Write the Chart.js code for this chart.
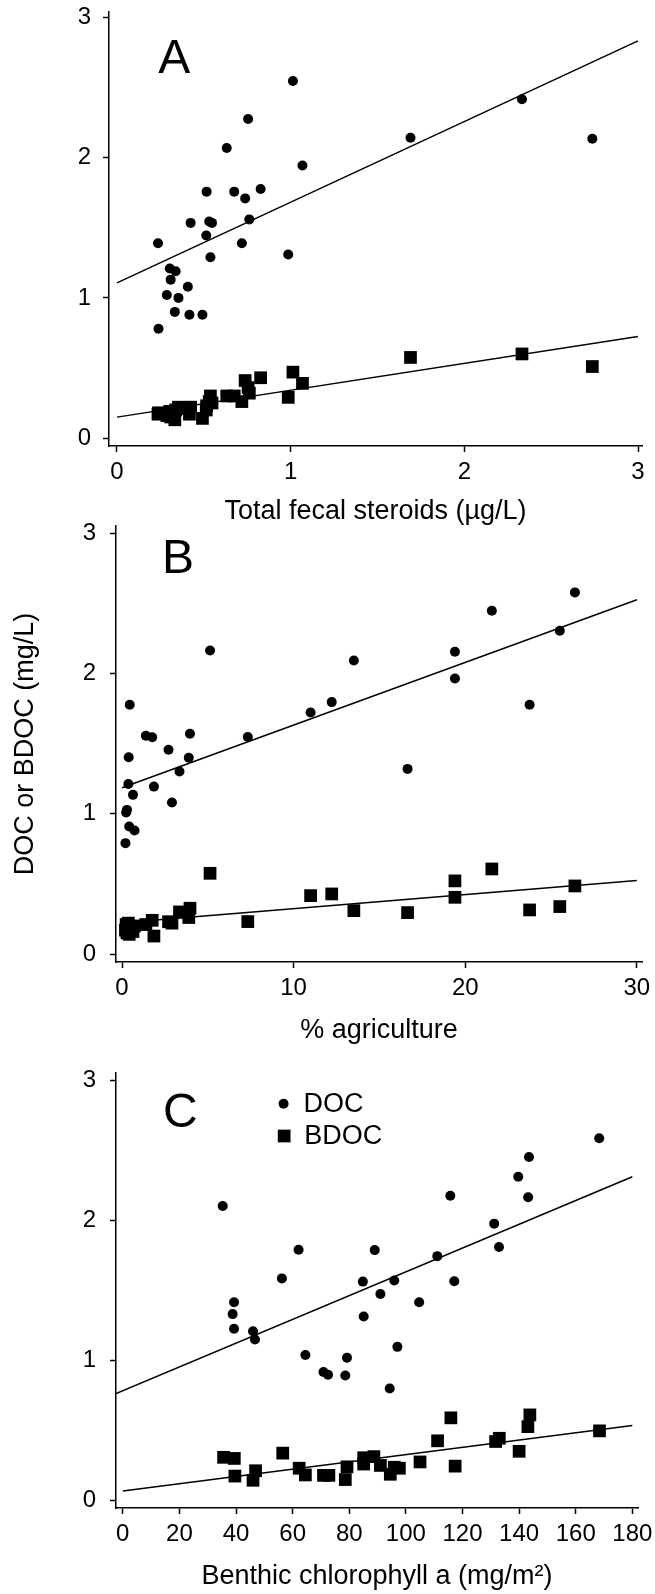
<!DOCTYPE html>
<html>
<head>
  <title>DOC and BDOC</title>
  <script src="https://cdn.jsdelivr.net/npm/chart.js"></script>
  <style>
    body { margin: 0; background: #fff; }
    #wrap { position: relative; width: 655px; height: 1594px; background: #fff; }
    canvas { position: absolute; left: 0; }
  </style>
</head>
<body>
<div id="wrap">
  <canvas id="chartA" width="655" height="525" style="top:0px"></canvas>
  <canvas id="chartB" width="655" height="550" style="top:500px"></canvas>
  <canvas id="chartC" width="655" height="554" style="top:1040px"></canvas>
</div>
<script>
// ====================
// Panel A: total fecal steroids (ug/L)
// ====================
const steroidsX = [0.236, 0.239, 0.287, 0.304, 0.309, 0.333, 0.338, 0.354, 0.408, 0.417,
                   0.424, 0.492, 0.514, 0.516, 0.531, 0.538, 0.547, 0.632, 0.675, 0.719,
                   0.738, 0.755, 0.762, 0.827, 0.986, 1.013, 1.068, 1.690, 2.332, 2.737];
const steroidsDOC = [1.39, 0.78, 1.02, 1.21, 1.13, 0.90, 1.19, 1.00, 1.08, 0.88,
                     1.535, 0.88, 1.445, 1.758, 1.545, 1.29, 1.535, 2.07, 1.758, 1.39,
                     1.71, 2.276, 1.56, 1.777, 1.31, 2.548, 1.945, 2.143, 2.418, 2.136];
const steroidsBDOC = [0.17, 0.18, 0.16, 0.19, 0.15, 0.13, 0.20, 0.22, 0.21, 0.17,
                      0.22, 0.14, 0.20, 0.23, 0.26, 0.30, 0.25, 0.30, 0.30, 0.26,
                      0.41, 0.36, 0.32, 0.43, 0.29, 0.47, 0.39, 0.575, 0.60, 0.51];
const steroidsFitX = [0, 3];
const steroidsFitDOC = [1.107, 2.834];
const steroidsFitBDOC = [0.149, 0.724];

// ====================
// Panel B: % agriculture
// ====================
const agriX = [0.20, 0.24, 0.29, 0.37, 0.39, 0.42, 0.45, 0.64, 0.73, 1.39,
               1.76, 1.86, 2.71, 2.91, 3.35, 3.89, 3.96, 5.13, 7.33, 10.99,
               12.22, 13.51, 16.64, 19.40, 19.40, 21.55, 23.75, 25.51, 26.39];
const agriDOC = [0.79, 1.008, 1.027, 1.212, 1.402, 0.908, 1.776, 1.134, 0.880, 1.555,
                 1.545, 1.193, 1.455, 1.079, 1.300, 1.398, 1.569, 2.163, 1.547, 1.721,
                 1.795, 2.092, 1.319, 2.154, 1.963, 2.446, 1.776, 2.303, 2.577];
const agriBDOC = [0.17, 0.21, 0.15, 0.22, 0.19, 0.14, 0.18, 0.16, 0.20, 0.21,
                  0.24, 0.128, 0.23, 0.22, 0.30, 0.26, 0.326, 0.575, 0.231, 0.416,
                  0.428, 0.309, 0.295, 0.521, 0.404, 0.606, 0.314, 0.338, 0.485];
const agriFitX = [0, 30];
const agriFitDOC = [1.185, 2.524];
const agriFitBDOC = [0.222, 0.523];

// ====================
// Panel C: benthic chlorophyll a (mg/m2)
// ====================
const chlDocX = [35.3, 39.3, 38.8, 39.3, 46.0, 46.7, 56.2, 62.1, 64.5, 70.9,
                 72.5, 78.6, 79.2, 84.8, 85.1, 89.0, 91.0, 95.9, 94.3, 97.0,
                 104.7, 111.1, 115.7, 117.1, 131.2, 132.9, 139.7, 143.5, 143.2, 168.3];
const chlDOC = [2.100, 1.412, 1.328, 1.223, 1.205, 1.147, 1.583, 1.787, 1.036, 0.915,
                0.895, 0.890, 1.016, 1.560, 1.311, 1.785, 1.472, 1.568, 0.797, 1.094,
                1.412, 1.742, 2.173, 1.563, 1.974, 1.807, 2.309, 2.450, 2.163, 2.584];
const chlBdocX = [35.6, 39.4, 39.6, 46.0, 46.9, 56.5, 62.3, 64.5, 70.9, 72.8,
                  78.6, 79.2, 85.1, 85.1, 88.7, 91.0, 94.5, 95.9, 97.7, 105.0,
                  111.2, 115.9, 117.4, 131.7, 133.0, 140.0, 143.1, 143.8, 168.4];
const chlBDOC = [0.305, 0.297, 0.171, 0.141, 0.209, 0.335, 0.227, 0.179, 0.176, 0.176,
                 0.146, 0.237, 0.257, 0.302, 0.310, 0.247, 0.184, 0.234, 0.227, 0.272,
                 0.423, 0.587, 0.242, 0.418, 0.441, 0.348, 0.524, 0.608, 0.494];
const chlFitDocX = [-2.4, 180];
const chlFitDOC = [0.760, 2.309];
const chlFitBdocX = [0, 180];
const chlFitBDOC = [0.065, 0.532];

const FONT = '"Liberation Sans", Arial, Helvetica, sans-serif';
Chart.defaults.font.family = FONT;
Chart.defaults.color = '#000';

const pts = (xs, ys) => xs.map((x, i) => ({ x: x, y: ys[i] }));

// panel letter + (optional) legend drawn in data units
const panelText = {
  id: 'panelText',
  afterDraw(chart, args, opts) {
    const { ctx } = chart;
    const sx = chart.scales.x, sy = chart.scales.y;
    ctx.save();
    ctx.fillStyle = '#000';
    ctx.textAlign = 'left';
    ctx.textBaseline = 'alphabetic';
    ctx.font = '48px ' + FONT;
    ctx.fillText(opts.letter, sx.getPixelForValue(opts.letterAt[0]), sy.getPixelForValue(opts.letterAt[1]));
    if (opts.legend) {
      ctx.font = '27px ' + FONT;
      ctx.textBaseline = 'middle';
      opts.legend.forEach(item => {
        const px = sx.getPixelForValue(item.at[0]);
        const py = sy.getPixelForValue(item.at[1]);
        Chart.helpers.drawPoint(ctx, { pointStyle: item.style, radius: item.radius, borderWidth: 0 }, px, py);
        ctx.fillText(item.text, px + 20, py + 1);
      });
    }
    ctx.restore();
  }
};

function axis(min, max, ticks, pad, title, titlePad) {
  return {
    type: 'linear',
    min: min,
    max: max,
    afterBuildTicks: s => { s.ticks = ticks.map(v => ({ value: v })); },
    ticks: { font: { size: 24, lineHeight: 1 }, color: '#000', padding: pad, callback: v => String(v), autoSkip: false, maxRotation: 0 },
    grid: { drawOnChartArea: false, drawTicks: true, tickLength: 6, tickWidth: 1.5, tickColor: '#000' },
    border: { display: true, color: '#000', width: 1.5 },
    title: { display: !!title, text: title || '', color: '#000', font: { size: 27, lineHeight: 1 }, padding: titlePad || 0 }
  };
}

function makeChart(id, c) {
  const x = axis(c.xMin, c.xMax, c.xTicks, 8, c.xTitle, { top: 0, bottom: c.xTitlePad });
  x.afterFit = s => { s.height = c.xHeight; s.paddingLeft = 0; s.paddingRight = 0; };
  const y = axis(-0.057, c.yMax, [0, 1, 2, 3], c.yPad, c.yTitle, { top: 12, bottom: 0 });
  y.afterFit = s => { s.width = c.yWidth; s.paddingTop = 0; s.paddingBottom = 0; };

  new Chart(document.getElementById(id), {
    type: 'scatter',
    data: {
      datasets: [
        { label: 'DOC', data: pts(c.docX, c.doc), pointStyle: 'circle', pointRadius: 5,
          backgroundColor: '#000', borderColor: '#000', borderWidth: 0 },
        { label: 'BDOC', data: pts(c.bdocX, c.bdoc), pointStyle: 'rect', pointRadius: 9,
          backgroundColor: '#000', borderColor: '#000', borderWidth: 0 },
        { label: 'DOC fit', data: pts(c.fitDocX, c.fitDoc), showLine: true, pointRadius: 0,
          borderColor: '#000', borderWidth: 1.5 },
        { label: 'BDOC fit', data: pts(c.fitBdocX, c.fitBdoc), showLine: true, pointRadius: 0,
          borderColor: '#000', borderWidth: 1.5 }
      ]
    },
    options: {
      responsive: false,
      animation: false,
      devicePixelRatio: 1,
      layout: { padding: { top: c.padTop, right: c.padRight, left: 0, bottom: 0 } },
      plugins: {
        legend: { display: false },
        tooltip: { enabled: false },
        panelText: { letter: c.letter, letterAt: c.letterAt, legend: c.legend }
      },
      scales: { x: x, y: y }
    },
    plugins: [panelText]
  });
}

makeChart('chartA', {
  docX: steroidsX, doc: steroidsDOC, bdocX: steroidsX, bdoc: steroidsBDOC,
  fitDocX: steroidsFitX, fitDoc: steroidsFitDOC, fitBdocX: steroidsFitX, fitBdoc: steroidsFitBDOC,
  xMin: -0.046, xMax: 3.023, xTicks: [0, 1, 2, 3], xTitle: 'Total fecal steroids (\u00b5g/L)', xTitlePad: 0,
  xHeight: 79, yWidth: 109, yPad: 12, yMax: 3.04, padTop: 12, padRight: 13,
  letter: 'A', letterAt: [0.237, 2.605]
});

makeChart('chartB', {
  docX: agriX, doc: agriDOC, bdocX: agriX, bdoc: agriBDOC,
  fitDocX: agriFitX, fitDoc: agriFitDOC, fitBdocX: agriFitX, fitBdoc: agriFitBDOC,
  xMin: -0.35, xMax: 30.3, xTicks: [0, 10, 20, 30], xTitle: '% agriculture', xTitlePad: 6,
  xHeight: 88, yWidth: 116, yPad: 14, yMax: 3.05, padTop: 26, padRight: 13,
  yTitle: 'DOC or BDOC (mg/L)',
  letter: 'B', letterAt: [2.33, 2.716]
});

makeChart('chartC', {
  docX: chlDocX, doc: chlDOC, bdocX: chlBdocX, bdoc: chlBDOC,
  fitDocX: chlFitDocX, fitDoc: chlFitDOC, fitBdocX: chlFitBdocX, fitBdoc: chlFitBDOC,
  xMin: -2.4, xMax: 182, xTicks: [0, 20, 40, 60, 80, 100, 120, 140, 160, 180],
  xTitle: 'Benthic chlorophyll a (mg/m\u00b2)', xTitlePad: 4,
  xHeight: 86, yWidth: 116, yPad: 14, yMax: 3.05, padTop: 33, padRight: 17,
  letter: 'C', letterAt: [14.2, 2.666],
  legend: [
    { text: 'DOC', style: 'circle', radius: 5, at: [56.8, 2.83] },
    { text: 'BDOC', style: 'rect', radius: 9, at: [57.0, 2.60] }
  ]
});
</script>
</body>
</html>
